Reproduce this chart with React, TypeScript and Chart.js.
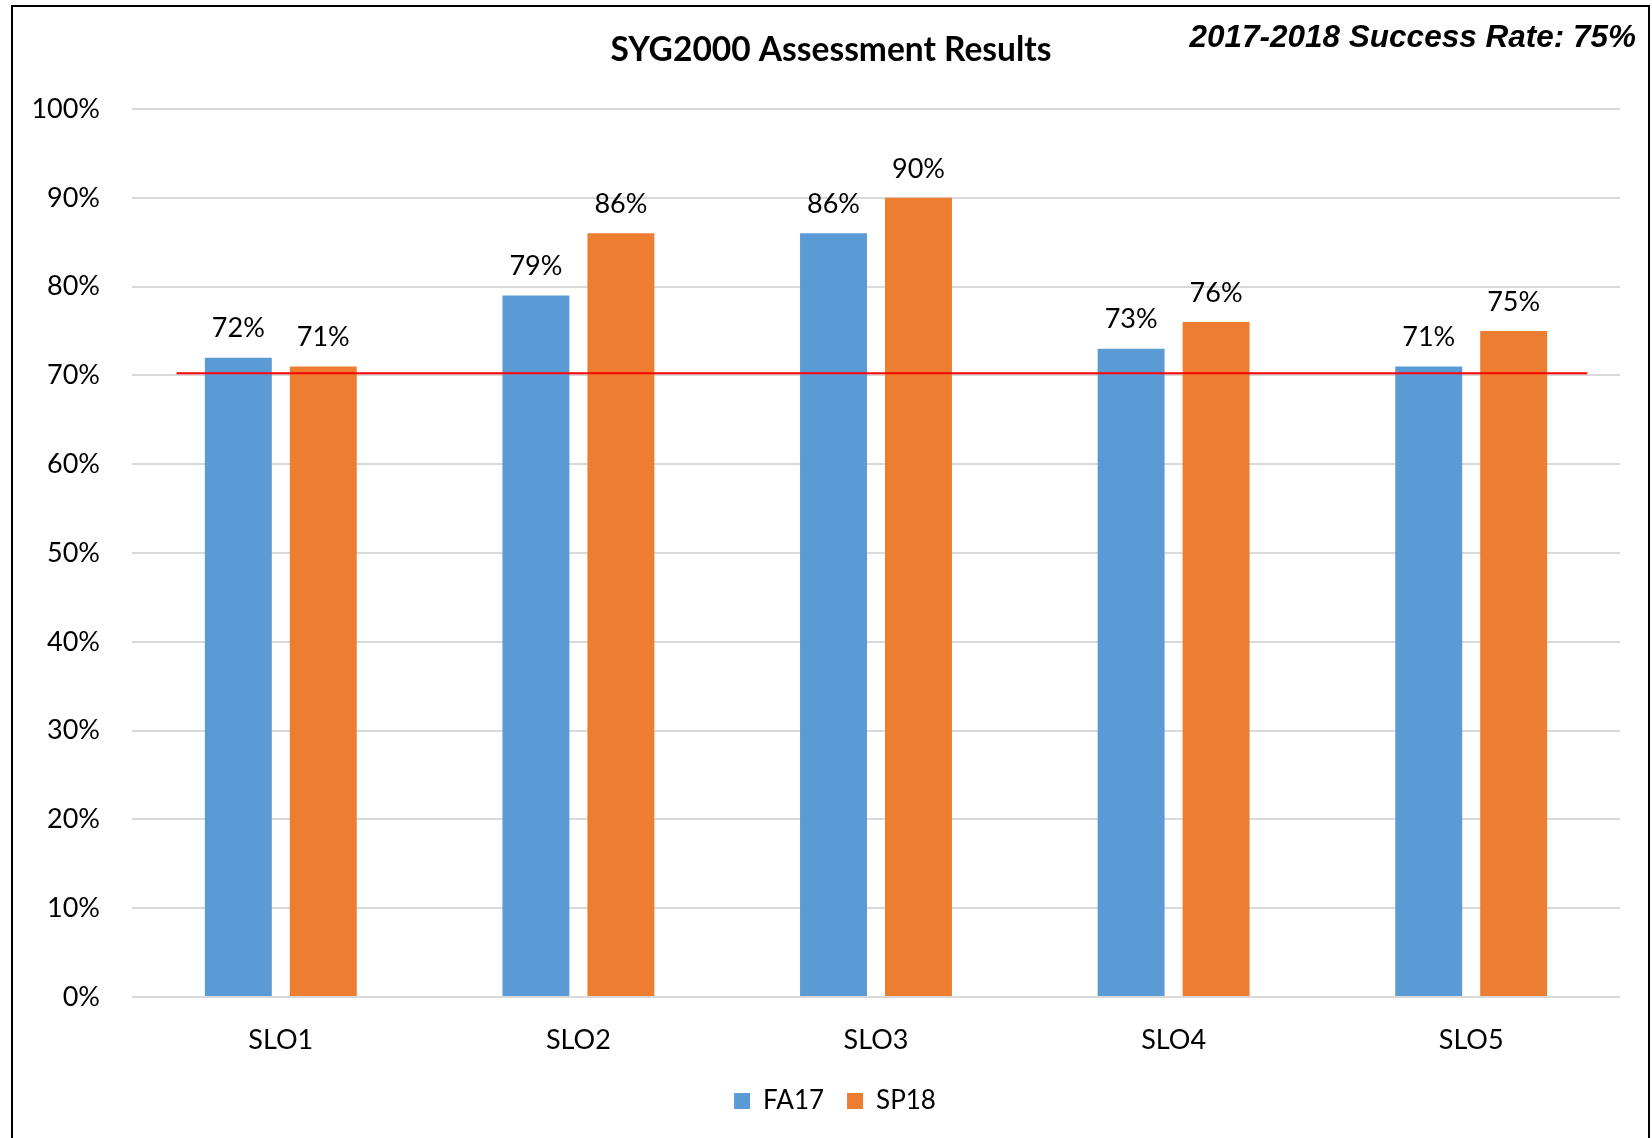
import React, { useEffect, useRef } from "react";
import { Chart, registerables } from "chart.js";

Chart.register(...registerables);

const categories = ["SLO1", "SLO2", "SLO3", "SLO4", "SLO5"];
const fa17 = [72, 79, 86, 73, 71];
const sp18 = [71, 86, 90, 76, 75];
const seriesNames = ["FA17", "SP18"];
const targetValue = 70.25;
const yTicksMax = 100;
const yTickStep = 10;
const chartTitle = "SYG2000 Assessment Results";
const cornerNote = "2017-2018 Success Rate: 75%";

const FONT = "Lato, 'Open Sans', sans-serif";

export default function App() {
  const ref = useRef<HTMLCanvasElement | null>(null);

  useEffect(() => {
    if (!ref.current) return;

    const labelPlugin = {
      id: "valueLabels",
      afterDatasetsDraw(chart: any) {
        const ctx = chart.ctx;
        ctx.save();
        ctx.font = `27px ${FONT}`;
        ctx.fillStyle = "#000";
        ctx.textAlign = "center";
        ctx.textBaseline = "middle";
        chart.data.datasets.forEach((ds: any, di: number) => {
          const meta = chart.getDatasetMeta(di);
          meta.data.forEach((bar: any, i: number) => {
            ctx.fillText(ds.data[i] + "%", bar.x, bar.y - 29);
          });
        });
        ctx.restore();
      },
    };

    const targetPlugin = {
      id: "targetLine",
      afterDatasetsDraw(chart: any) {
        const ctx = chart.ctx;
        const xs = chart.scales.x;
        const ys = chart.scales.y;
        const catW = xs.getPixelForValue(1) - xs.getPixelForValue(0);
        const y = ys.getPixelForValue(targetValue);
        const x1 = xs.getPixelForValue(0) - 0.35 * catW;
        const x2 = xs.getPixelForValue(categories.length - 1) + 0.39 * catW;
        ctx.save();
        ctx.strokeStyle = "#FF0000";
        ctx.lineWidth = 2;
        ctx.beginPath();
        ctx.moveTo(x1, y);
        ctx.lineTo(x2, y);
        ctx.stroke();
        ctx.restore();
      },
    };

    const textPlugin = {
      id: "headerTexts",
      afterDraw(chart: any) {
        const ctx = chart.ctx;
        ctx.save();
        ctx.fillStyle = "#000";
        ctx.textBaseline = "middle";
        ctx.font = `bold 33.5px ${FONT}`;
        ctx.textAlign = "center";
        ctx.fillText(chartTitle, 831, 50);
        ctx.font = `italic bold 31.5px 'Liberation Sans', Arial, sans-serif`;
        ctx.textAlign = "right";
        ctx.fillText(cornerNote, 1636, 38);
        ctx.restore();
      },
    };

    const chart = new Chart(ref.current, {
      type: "bar",
      data: {
        labels: categories,
        datasets: [
          {
            label: seriesNames[0],
            data: fa17,
            backgroundColor: "#5B9BD5",
            categoryPercentage: 0.571,
            barPercentage: 0.788,
          },
          {
            label: seriesNames[1],
            data: sp18,
            backgroundColor: "#ED7D31",
            categoryPercentage: 0.571,
            barPercentage: 0.788,
          },
        ],
      },
      options: {
        animation: false,
        responsive: false,
        layout: { padding: { left: 18, right: 0, top: 109, bottom: 14 } },
        plugins: {
          title: { display: false },
          legend: {
            position: "bottom",
            labels: {
              color: "#000",
              font: { family: FONT, size: 26 },
              boxWidth: 16,
              boxHeight: 16,
              padding: 23,
            },
          },
          tooltip: { enabled: false },
        },
        scales: {
          x: {
            grid: { display: false },
            border: { display: false },
            ticks: {
              color: "#000",
              font: { family: FONT, size: 27 },
              padding: 19,
            },
            afterFit(scale: any) {
              scale.height = 68;
            },
          },
          y: {
            min: 0,
            max: yTicksMax,
            grid: { color: "#D9D9D9", lineWidth: 2, drawTicks: false },
            border: { display: false },
            ticks: {
              stepSize: yTickStep,
              color: "#000",
              font: { family: FONT, size: 27 },
              padding: 32,
              callback: (v: any) => v + "%",
            },
            afterFit(scale: any) {
              scale.width = 114;
            },
          },
          yRight: {
            position: "right",
            display: true,
            grid: { display: false, drawTicks: false },
            border: { display: false },
            ticks: { display: false },
            afterFit(scale: any) {
              scale.width = 32;
            },
          },
        },
      },
      plugins: [labelPlugin, targetPlugin, textPlugin],
    });

    return () => chart.destroy();
  }, []);

  return (
    <div style={{ position: "fixed", left: 0, top: 0, width: 1652, height: 1138, overflow: "hidden", background: "#fff" }}>
      <div
        style={{
          position: "absolute",
          left: 11,
          top: 5,
          width: 1639,
          height: 1140,
          boxSizing: "border-box",
          border: "2px solid #000",
          borderBottom: "none",
        }}
      />
      <canvas ref={ref} width={1652} height={1138} style={{ position: "absolute", left: 0, top: 0, width: 1652, height: 1138 }} />
    </div>
  );
}
